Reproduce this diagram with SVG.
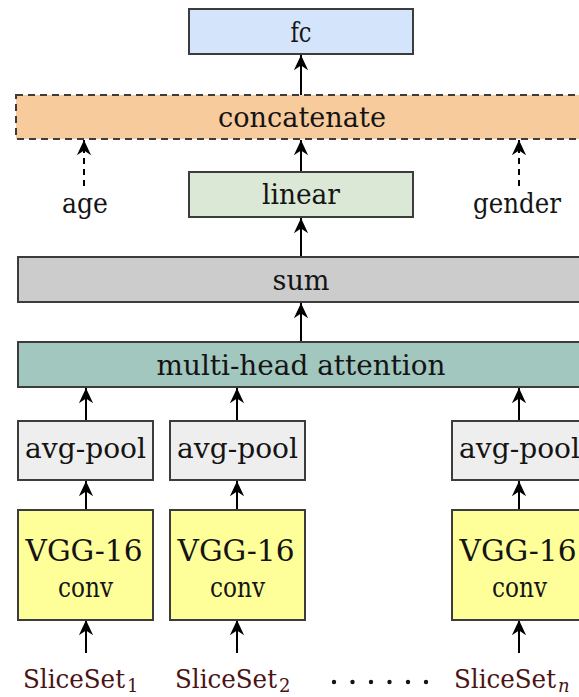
<svg xmlns="http://www.w3.org/2000/svg" width="579" height="697" viewBox="0 0 579 697">
  <defs>
    <!-- stealth-style arrowhead -->
    <marker id="head" markerUnits="userSpaceOnUse" markerWidth="18" markerHeight="18" viewBox="-17 -9 19 18" refX="0" refY="0" orient="auto">
      <path d="M0,0 L-16,-7.5 L-11,0 L-16,7.5 Z" fill="#000"/>
    </marker>
    <style>
      .box { stroke: #3c3c3c; stroke-width: 2; }
      .dash { stroke: #3c3c3c; stroke-width: 2; stroke-dasharray: 7 5; }
      .lbl { font-size: 27px; fill: #141414; text-anchor: middle; }
      .big { font-size: 29px; }
      .src { font-size: 26px; fill: #4a1414; }
      .sub { font-size: 18px; fill: #4a1414; }
      .arr { stroke: #000; stroke-width: 2; fill: none; marker-end: url(#head); }
      .arr-d { stroke: #000; stroke-width: 2; fill: none; stroke-dasharray: 6 5; marker-end: url(#head); }
    </style>
  </defs>

  <rect width="579" height="697" fill="#fff"/>

  <!-- connectors -->
  <g id="connectors">
    <line class="arr" x1="301" y1="95" x2="301" y2="55"/>
    <line class="arr" x1="301" y1="172" x2="301" y2="140"/>
    <line class="arr" x1="301" y1="257" x2="301" y2="218"/>
    <line class="arr" x1="301" y1="342" x2="301" y2="303"/>
    <line class="arr-d" x1="84" y1="186" x2="84" y2="140"/>
    <line class="arr-d" x1="519" y1="186" x2="519" y2="140"/>
    <line class="arr" x1="86" y1="421" x2="86" y2="388"/>
    <line class="arr" x1="237" y1="421" x2="237" y2="388"/>
    <line class="arr" x1="519" y1="421" x2="519" y2="388"/>
    <line class="arr" x1="86" y1="510" x2="86" y2="481"/>
    <line class="arr" x1="237" y1="510" x2="237" y2="481"/>
    <line class="arr" x1="519" y1="510" x2="519" y2="481"/>
    <line class="arr" x1="86" y1="653" x2="86" y2="620"/>
    <line class="arr" x1="237" y1="653" x2="237" y2="620"/>
    <line class="arr" x1="519" y1="653" x2="519" y2="620"/>
  </g>

  <g font-family="DejaVu Serif, serif">
  <g id="fc">
    <rect class="box" x="189" y="9" width="224" height="45" fill="#d4e4fa"/>
    <text class="lbl" x="301" y="42" textLength="21" lengthAdjust="spacingAndGlyphs">fc</text>
  </g>

  <g id="concatenate">
    <rect class="dash" x="16" y="95" width="600" height="44" fill="#f8cb9c"/>
    <text class="lbl" x="302" y="127" textLength="168" lengthAdjust="spacingAndGlyphs">concatenate</text>
  </g>

  <g id="age">
    <text class="lbl" x="85" y="213" textLength="46" lengthAdjust="spacingAndGlyphs">age</text>
  </g>

  <g id="gender">
    <text class="lbl" x="517" y="213" textLength="88" lengthAdjust="spacingAndGlyphs">gender</text>
  </g>

  <g id="linear">
    <rect class="box" x="189" y="172" width="224" height="45" fill="#dbe8d5"/>
    <text class="lbl" x="301" y="204" textLength="78" lengthAdjust="spacingAndGlyphs">linear</text>
  </g>

  <g id="sum">
    <rect class="box" x="18" y="257" width="600" height="45" fill="#cccccc"/>
    <text class="lbl" x="301" y="290" textLength="57" lengthAdjust="spacingAndGlyphs">sum</text>
  </g>

  <g id="attention">
    <rect class="box" x="18" y="342" width="600" height="45" fill="#a2c7be"/>
    <text class="lbl" x="301" y="375" textLength="289" lengthAdjust="spacingAndGlyphs">multi-head attention</text>
  </g>

  <g id="pool1">
    <rect class="box" x="18" y="421" width="135" height="59" fill="#eeeeee"/>
    <text class="lbl" x="85.5" y="458" textLength="121" lengthAdjust="spacingAndGlyphs">avg-pool</text>
  </g>
  <g id="pool2">
    <rect class="box" x="170" y="421" width="135" height="59" fill="#eeeeee"/>
    <text class="lbl" x="237.5" y="458" textLength="121" lengthAdjust="spacingAndGlyphs">avg-pool</text>
  </g>
  <g id="poolN">
    <rect class="box" x="452" y="421" width="135" height="59" fill="#eeeeee"/>
    <text class="lbl" x="519.5" y="458" textLength="121" lengthAdjust="spacingAndGlyphs">avg-pool</text>
  </g>

  <g id="vgg1">
    <rect class="box" x="18" y="510" width="135" height="110" fill="#ffff99"/>
    <text class="lbl big" x="84" y="561" textLength="117" lengthAdjust="spacingAndGlyphs">VGG-16</text>
    <text class="lbl" x="85.5" y="597" textLength="55" lengthAdjust="spacingAndGlyphs">conv</text>
  </g>
  <g id="vgg2">
    <rect class="box" x="170" y="510" width="135" height="110" fill="#ffff99"/>
    <text class="lbl big" x="236" y="561" textLength="117" lengthAdjust="spacingAndGlyphs">VGG-16</text>
    <text class="lbl" x="237.5" y="597" textLength="55" lengthAdjust="spacingAndGlyphs">conv</text>
  </g>
  <g id="vggN">
    <rect class="box" x="452" y="510" width="135" height="110" fill="#ffff99"/>
    <text class="lbl big" x="518" y="561" textLength="117" lengthAdjust="spacingAndGlyphs">VGG-16</text>
    <text class="lbl" x="519.5" y="597" textLength="55" lengthAdjust="spacingAndGlyphs">conv</text>
  </g>

  <g id="slice1">
    <text class="src" x="23" y="688" textLength="102" lengthAdjust="spacingAndGlyphs">SliceSet</text>
    <text class="sub" x="127" y="692">1</text>
  </g>
  <g id="slice2">
    <text class="src" x="175" y="688" textLength="102" lengthAdjust="spacingAndGlyphs">SliceSet</text>
    <text class="sub" x="279" y="692">2</text>
  </g>
  <g id="sliceN">
    <text class="src" x="454" y="688" textLength="102" lengthAdjust="spacingAndGlyphs">SliceSet</text>
    <text class="sub" x="558" y="692" font-style="italic">n</text>
  </g>
  </g>

  <g id="ellipsis" fill="#141414">
    <circle cx="334" cy="682" r="2.2"/>
    <circle cx="352.5" cy="682" r="2.2"/>
    <circle cx="371" cy="682" r="2.2"/>
    <circle cx="389.5" cy="682" r="2.2"/>
    <circle cx="408" cy="682" r="2.2"/>
    <circle cx="426" cy="682" r="2.2"/>
  </g>
</svg>
